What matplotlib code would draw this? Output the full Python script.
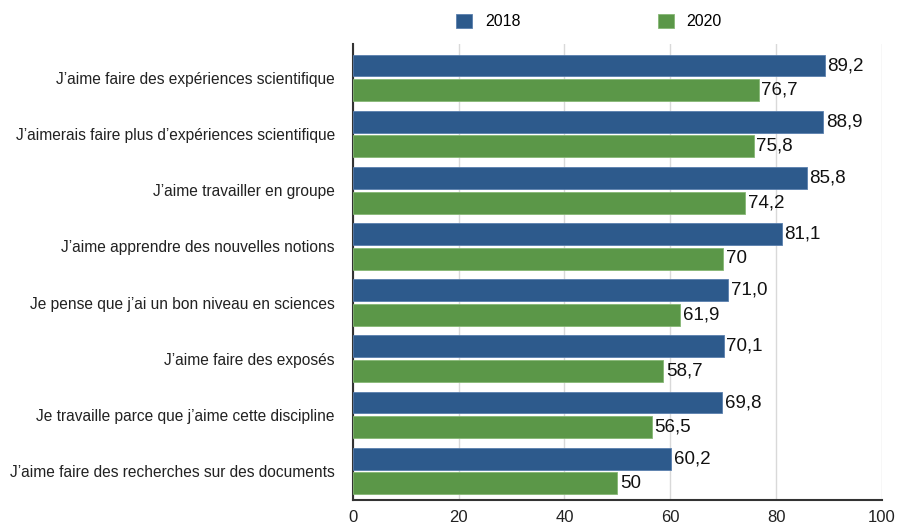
import numpy as np
import matplotlib.pyplot as plt

plt.rcParams['font.family'] = ['Liberation Sans', 'DejaVu Sans']

labels = [
    "J’aime faire des expériences scientifique",
    "J’aimerais faire plus d’expériences scientifique",
    "J’aime travailler en groupe",
    "J’aime apprendre des nouvelles notions",
    "Je pense que j’ai un bon niveau en sciences",
    "J’aime faire des exposés",
    "Je travaille parce que j’aime cette discipline",
    "J’aime faire des recherches sur des documents",
]
v2018 = [89.2, 88.9, 85.8, 81.1, 71.0, 70.1, 69.8, 60.2]
v2020 = [76.7, 75.8, 74.2, 70, 61.9, 58.7, 56.5, 50]
txt2018 = ["89,2", "88,9", "85,8", "81,1", "71,0", "70,1", "69,8", "60,2"]
txt2020 = ["76,7", "75,8", "74,2", "70", "61,9", "58,7", "56,5", "50"]

blue = "#2d5a8c"
green = "#5b9748"

fig = plt.figure(figsize=(8.98, 5.26), dpi=100)
ax = fig.add_axes([0.393, 0.049, 0.589, 0.867])

y = np.arange(len(labels))
h = 0.39
b1 = ax.barh(y - 0.22, v2018, height=h, color=blue, edgecolor="#5a7fae", linewidth=0.6, label="2018", zorder=3)
b2 = ax.barh(y + 0.22, v2020, height=h, color=green, edgecolor="#86b875", linewidth=0.6, label="2020", zorder=3)

for i in range(len(labels)):
    ax.text(v2018[i] + 0.5, y[i] - 0.22, txt2018[i], va="center", ha="left", fontsize=13.5, color="#111111")
    ax.text(v2020[i] + 0.5, y[i] + 0.22, txt2020[i], va="center", ha="left", fontsize=13.5, color="#111111")

ax.set_xlim(0, 100)
ax.set_ylim(7.52, -0.6)
ax.set_xticks([0, 20, 40, 60, 80, 100])
ax.set_yticks(y)
ax.set_yticklabels(labels, fontsize=11.2, color="#222222")
ax.tick_params(axis="x", length=0, labelsize=12, pad=7, colors="#222222")
ax.tick_params(axis="y", length=0, pad=13)
ax.grid(axis="x", color="#d9d9d9", linewidth=1, zorder=0)
for s in ["top", "right"]:
    ax.spines[s].set_visible(False)
ax.spines["left"].set_color("#333333")
ax.spines["bottom"].set_color("#333333")
ax.spines["left"].set_linewidth(1.5)
ax.spines["bottom"].set_linewidth(1.5)

fig.legend(handles=[b1, b2], loc="center", bbox_to_anchor=(0.656, 0.959), ncol=2,
           frameon=False, fontsize=11.5, handlelength=1.0, handleheight=1.0,
           columnspacing=8.6, handletextpad=0.8)

fig.savefig("out.png", dpi=100)
